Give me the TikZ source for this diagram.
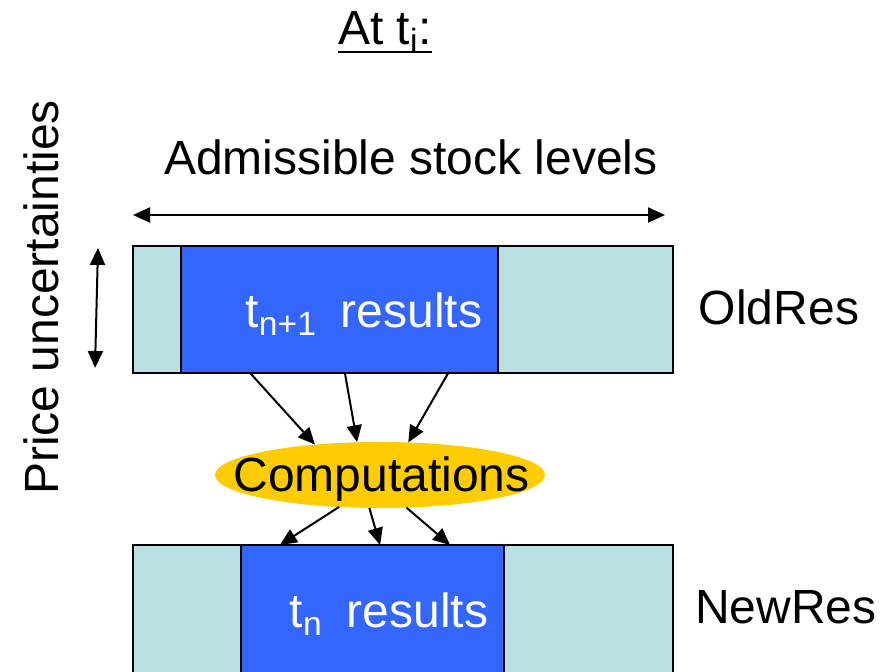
\documentclass[tikz,border=0pt]{standalone}
\usepackage{fontspec}
\setmainfont{Liberation Sans}
\usetikzlibrary{arrows.meta, calc, shapes.geometric}
\definecolor{lightcyan}{HTML}{BBE0E3}
\definecolor{resblue}{HTML}{3366FF}
\definecolor{compyellow}{HTML}{FFCC00}
\tikzset{>={Triangle[length=8.5pt, width=7.5pt]}}
\tikzset{
    outerbox/.style={draw=black, line width=1.3pt, fill=lightcyan, minimum width=270pt, inner sep=0pt, outer sep=0pt},
    innerbox/.style={draw=black, line width=1.3pt, fill=resblue, inner sep=0pt, outer sep=0pt},
    lbl/.style={font=\fontsize{24}{28}\selectfont, inner sep=0pt, anchor=base},
    flow/.style={->, line width=1pt}
}

\begin{document}
\begin{tikzpicture}[x=0.5pt, y=0.5pt]
    \useasboundingbox (0,0) rectangle (880,672);
    \node[lbl] (title) at (385,627) {At t\textsubscript{i}:};
    \draw[line width=1.4pt] ([yshift=-3.5pt]title.base west) -- ([yshift=-3.5pt]title.base east);
    \node[lbl] (stock) at (411,497) {Admissible stock levels};
    \node[lbl, rotate=90] (price) at (59,374.5) {Price uncertainties};
    \coordinate (sl) at (133,457);
    \coordinate (sr) at (665,457);
    \coordinate (pt) at (98,424);
    \coordinate (pb) at (95,304);
    \draw[<->, line width=1pt] (sl) -- (sr);
    \draw[<->, line width=1pt] (pt) -- (pb);
    % old results
    \node[outerbox, minimum height=63.5pt] (oldres) at (403,362.5) {};
    \node[innerbox, minimum width=158.5pt, minimum height=63.5pt] (oldin) at (339.5,362.5) {};
    \node[lbl, text=white] (oldtxt) at (364,344) {t\textsubscript{n+1}\hspace{0.5em}results};
    \node[lbl] (oldlbl) at (779,347) {OldRes};
    % computations
    \node[ellipse, fill=compyellow, minimum width=165pt, minimum height=33pt, inner sep=0pt, outer sep=0pt] (comp) at (380,197) {};
    \node[lbl] (comptxt) at (381.5,180) {Computations};
    % new results
    \node[outerbox, minimum height=66pt] (newres) at (403,61) {};
    \node[innerbox, minimum width=131.5pt, minimum height=66pt] (newin) at (372.5,61) {};
    \node[lbl, text=white] (newtxt) at (389,44) {t\textsubscript{n}\hspace{0.5em}results};
    \node[lbl] (newlbl) at (786,48) {NewRes};
    % arrows
    \draw[flow] ($(oldin.south west)!0.218!(oldin.south east)$) -- (comp.155);
    \draw[flow] ($(oldin.south west)!0.517!(oldin.south east)$) -- (comp.125);
    \draw[flow] ($(oldin.south west)!0.843!(oldin.south east)$) -- (comp.49);
    \draw[flow] (comp.218) -- ($(newin.north west)!0.148!(newin.north east)$);
    \draw[flow] (comp.252) -- ($(newin.north west)!0.529!(newin.north east)$);
    \draw[flow] (comp.309) -- ($(newin.north west)!0.795!(newin.north east)$);
\end{tikzpicture}
\end{document}
